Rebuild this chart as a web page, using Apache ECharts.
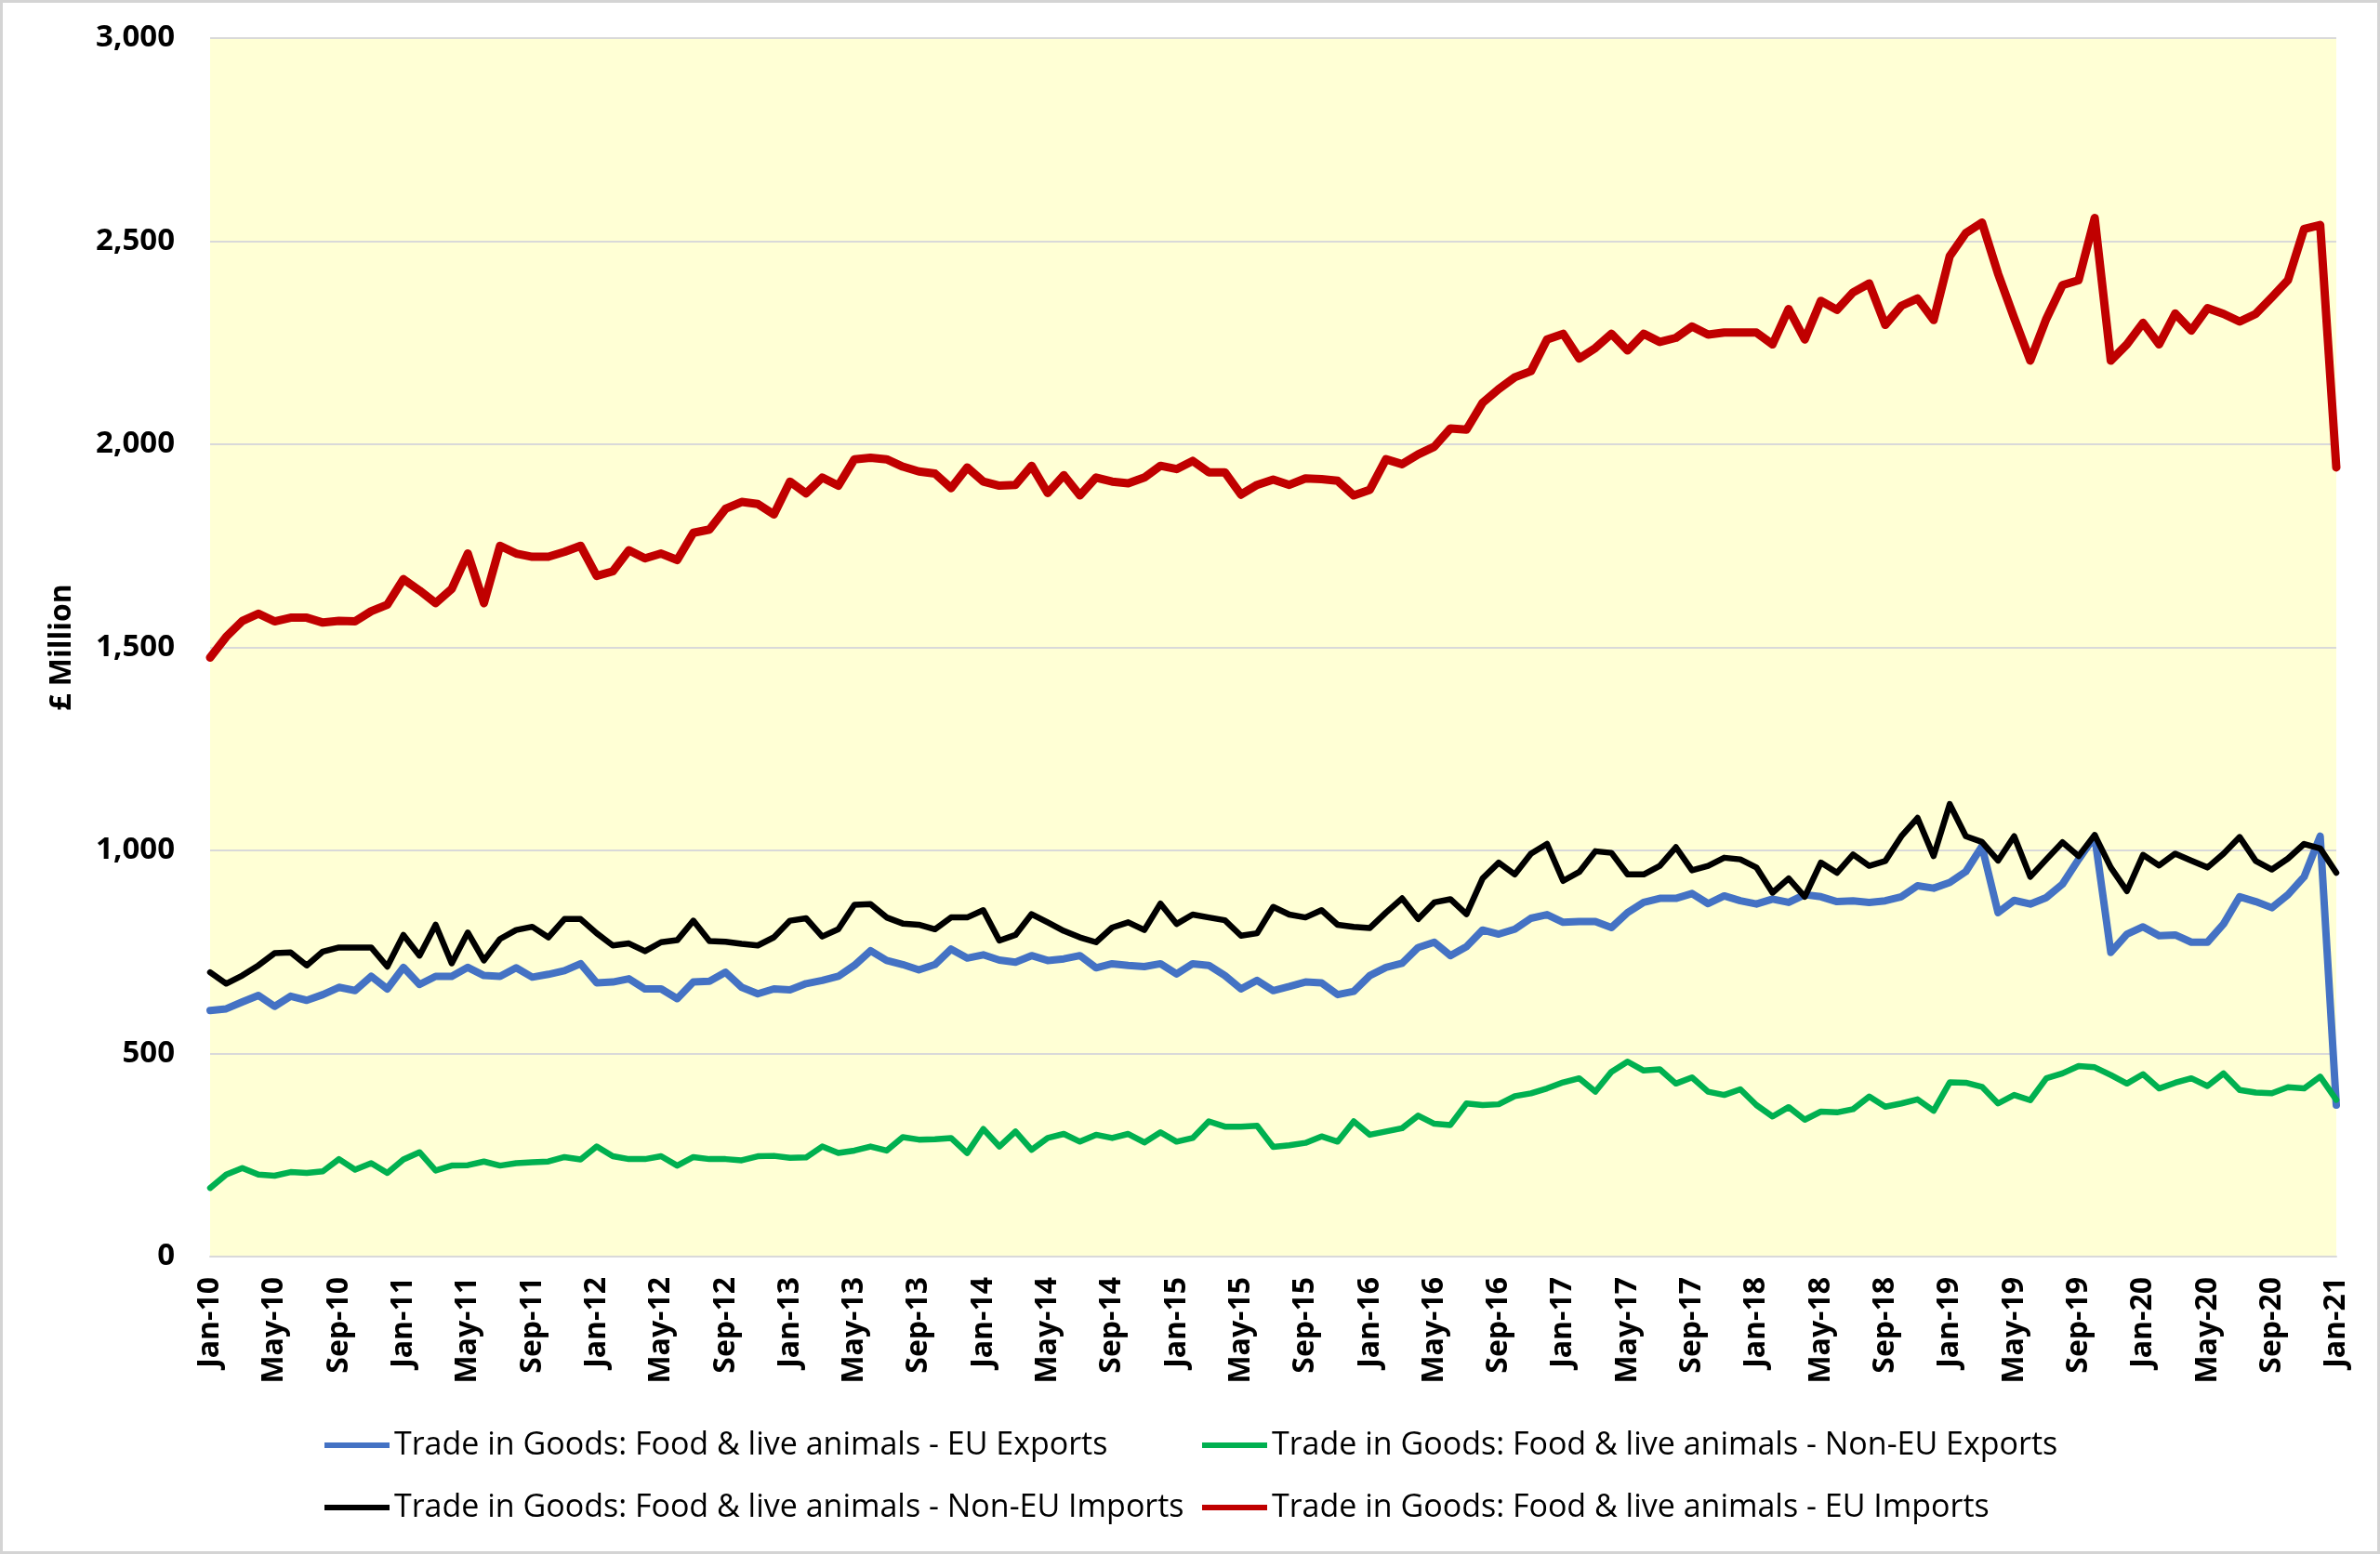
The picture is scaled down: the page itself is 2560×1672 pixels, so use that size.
<!DOCTYPE html>
<html>
<head>
<meta charset="utf-8">
<script src="https://cdn.jsdelivr.net/npm/echarts@6/dist/echarts.min.js"></script>
<style>
html,body{margin:0;padding:0;background:#fff;}
#wrap{width:2560px;height:1672px;box-sizing:border-box;border:3px solid #d4d4d4;background:#fff;}
#chart{width:100%;height:100%;}
</style>
</head>
<body>
<div id="wrap"><div id="chart"></div></div>
<script>
var monthNames = ['Jan','Feb','Mar','Apr','May','Jun','Jul','Aug','Sep','Oct','Nov','Dec'];
var years = ['10','11','12','13','14','15','16','17','18','19','20','21'];
var categories = [];
for (var y = 0; y < years.length; y++) {
  for (var m = 0; m < 12; m++) {
    if (y === years.length - 1 && m > 0) break;
    categories.push(monthNames[m] + '-' + years[y]);
  }
}
var seriesNames = [
  'Trade in Goods: Food & live animals - EU Exports',
  'Trade in Goods: Food & live animals - Non-EU Exports',
  'Trade in Goods: Food & live animals - Non-EU Imports',
  'Trade in Goods: Food & live animals - EU Imports'
];
var euExports = [606,610,627,643,616,641,631,645,663,655,
690,659,712,670,690,690,712,692,690,711,
688,695,704,721,674,676,684,659,659,635,
676,678,700,663,647,659,657,672,680,690,
717,753,729,719,706,719,757,735,743,730,
725,741,729,733,741,711,721,717,714,721,
696,721,717,692,659,680,655,665,676,674,
645,653,692,712,722,761,774,741,763,804,
794,806,833,842,823,825,825,810,847,872,
882,882,894,869,888,876,868,880,872,891,
886,874,876,872,876,886,913,907,921,948,
1010,847,877,868,884,917,978,1035,749,794,
812,790,792,774,774,819,886,874,859,891,
935,1035,373];
var nonEuExports = [169,202,218,202,199,208,206,210,240,214,
230,206,239,257,212,224,225,234,224,230,
232,234,245,239,271,247,240,240,247,224,
245,240,240,237,247,248,243,244,271,255,
261,271,261,294,288,289,292,255,314,271,
308,263,292,302,283,300,292,302,281,306,
283,292,333,320,320,322,270,274,280,296,
283,333,300,308,316,347,327,324,377,373,
375,395,402,414,429,439,406,455,480,458,
461,426,441,406,398,412,373,345,368,337,
357,355,363,394,369,377,387,359,429,428,
418,377,398,385,439,451,469,466,447,426,
449,414,428,439,420,451,410,404,402,417,
414,443,386];
var nonEuImports = [700,672,692,717,747,749,717,751,761,761,
761,714,792,741,817,722,798,729,782,804,
812,786,831,831,796,766,771,752,774,779,
827,777,775,770,766,786,827,833,788,806,
866,868,835,820,817,806,835,835,853,778,
792,843,823,802,786,774,810,823,804,869,
819,842,835,828,790,796,861,842,835,853,
817,812,809,847,882,831,872,880,843,931,
970,941,992,1016,925,947,998,994,941,941,
962,1008,951,962,982,978,958,896,931,886,
970,945,990,962,974,1035,1080,986,1114,1035,
1021,975,1035,935,978,1020,986,1038,958,900,
989,963,992,975,958,992,1033,974,953,980,
1016,1005,945];
var euImports = [1475,1526,1565,1583,1564,1573,1573,1561,1565,1564,
1589,1605,1668,1640,1609,1644,1731,1609,1750,1731,
1723,1723,1735,1750,1676,1687,1739,1719,1731,1715,
1782,1790,1841,1858,1853,1827,1908,1879,1918,1898,
1963,1967,1963,1945,1933,1928,1892,1943,1908,1898,
1900,1947,1880,1924,1874,1918,1908,1904,1918,1947,
1939,1959,1931,1931,1876,1900,1913,1900,1916,1914,
1910,1874,1888,1963,1951,1975,1994,2039,2036,2102,
2136,2165,2180,2258,2272,2211,2237,2272,2231,2272,
2252,2262,2290,2270,2275,2275,2275,2246,2333,2258,
2353,2331,2374,2396,2294,2341,2359,2306,2463,2520,
2546,2420,2311,2206,2309,2392,2404,2557,2206,2246,
2299,2246,2322,2280,2335,2321,2302,2321,2362,2404,
2530,2540,1943];
var yTicks = [0, 500, 1000, 1500, 2000, 2500, 3000];

var colors = ['#4472C4', '#00B050', '#000000', '#C00000'];
var widths = [8, 6.5, 6.5, 9];
var values = [euExports, nonEuExports, nonEuImports, euImports];
var FONT = 'Open Sans';

var chart = echarts.init(document.getElementById('chart'), null, {renderer: 'canvas'});

function legendItem(i, left, top) {
  return {
    data: [seriesNames[i]],
    left: left, top: top, orient: 'horizontal', padding: 0,
    icon: 'rect', itemWidth: 70, itemHeight: 6, itemGap: 0,
    selectedMode: false,
    textStyle: {fontFamily: FONT, fontSize: 34, color: '#000', padding: [0, 0, 0, 0]}
  };
}

var series = [];
for (var s = 0; s < 4; s++) {
  series.push({
    name: seriesNames[s], type: 'line', data: values[s],
    showSymbol: false, symbol: 'none', smooth: false,
    lineStyle: {color: colors[s], width: widths[s], cap: 'round', join: 'round'},
    itemStyle: {color: colors[s]},
    z: 2 + s, animation: false
  });
}

chart.setOption({
  animation: false,
  backgroundColor: '#ffffff',
  grid: {left: 223, right: 44, top: 38, bottom: 317, show: true, backgroundColor: '#FFFFD5', borderWidth: 0},
  xAxis: {
    type: 'category', data: categories, boundaryGap: false,
    axisLine: {show: true, lineStyle: {color: '#d9d9d9', width: 2}},
    axisTick: {show: false},
    axisLabel: {interval: 3, rotate: 90, margin: 22, fontFamily: FONT, fontSize: 32, fontWeight: 'bold', color: '#000'},
    splitLine: {show: false}
  },
  yAxis: {
    type: 'value', min: yTicks[0], max: yTicks[yTicks.length - 1], interval: 500,
    name: '£ Million', nameLocation: 'middle', nameRotate: 90, nameGap: 143,
    nameTextStyle: {fontFamily: FONT, fontSize: 32, fontWeight: 'bold', color: '#000'},
    axisLine: {show: false}, axisTick: {show: false},
    axisLabel: {margin: 38, fontFamily: FONT, fontSize: 33, fontWeight: 'bold', color: '#000',
      formatter: function (v) { return v.toLocaleString('en-US'); }},
    splitLine: {show: true, lineStyle: {color: '#d9d9d9', width: 2}}
  },
  legend: [
    legendItem(0, 346, 1535),
    legendItem(1, 1290, 1535),
    legendItem(2, 346, 1602),
    legendItem(3, 1290, 1602)
  ],
  series: series
});
</script>
</body>
</html>
